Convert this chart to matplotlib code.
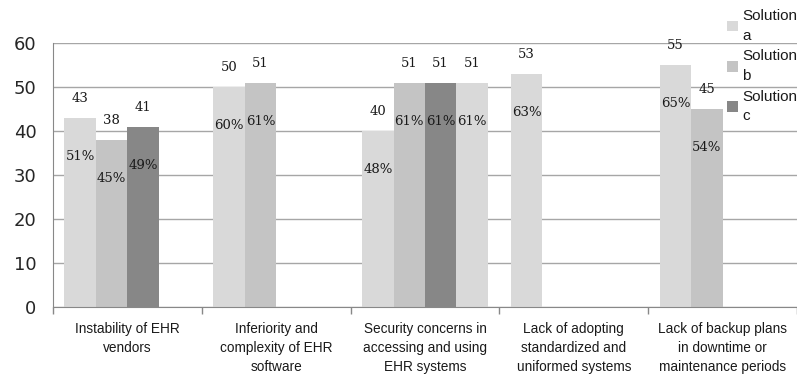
import numpy as np
import matplotlib.pyplot as plt
from matplotlib import font_manager
from matplotlib.ticker import FixedLocator, NullFormatter

categories = [
    "Instability of EHR\nvendors",
    "Inferiority and\ncomplexity of EHR\nsoftware",
    "Security concerns in\naccessing and using\nEHR systems",
    "Lack of adopting\nstandardized and\nuniformed systems",
    "Lack of backup plans\nin downtime or\nmaintenance periods",
]

# counts per solution (nan = no bar)
sol_a = [43, 50, 40, 53, 55]
sol_b = [38, 51, 51, np.nan, 45]
sol_c = [41, np.nan, 51, np.nan, np.nan]
sol_d = [np.nan, np.nan, 51, np.nan, np.nan]

# percentage shown inside each bar
pct_a = [51, 60, 48, 63, 65]
pct_b = [45, 61, 61, np.nan, 54]
pct_c = [49, np.nan, 61, np.nan, np.nan]
pct_d = [np.nan, np.nan, 61, np.nan, np.nan]

series = [
    ("Solution\na", sol_a, pct_a, "#d9d9d9"),
    ("Solution\nb", sol_b, pct_b, "#c4c4c4"),
    ("Solution\nc", sol_c, pct_c, "#878787"),
    (None, sol_d, pct_d, "#d9d9d9"),
]

# narrow font for the category labels if there is one
installed = {f.name for f in font_manager.fontManager.ttflist}
label_font = "Liberation Sans Narrow" if "Liberation Sans Narrow" in installed else "Liberation Sans"

fig = plt.figure(figsize=(7.97, 3.83), dpi=100)
ax = fig.add_axes([53 / 797, 76 / 383, 744 / 797, 264 / 383])

x = np.arange(len(categories))
w = 0.2114
num_font = dict(family="DejaVu Serif", fontsize=9.5, color="#1a1a1a")

handles = []
for k, (name, vals, pcts, col) in enumerate(series):
    pos = x + (k - 1.5) * w
    vals = np.array(vals, dtype=float)
    bars = ax.bar(pos, np.nan_to_num(vals), w, color=col, zorder=2,
                  label=name if name else "_nolegend_")
    if name:
        handles.append(bars)
    for p, v, pc in zip(pos, vals, pcts):
        if np.isnan(v):
            continue
        ax.annotate(f"{int(v)}", (p, v), xytext=(0, 14), textcoords="offset points",
                    ha="center", va="center", **num_font)
        ax.annotate(f"{int(pc)}%", (p, v), xytext=(0, -28), textcoords="offset points",
                    ha="center", va="center", **num_font)

ax.set_xlim(-0.5, 4.5)
ax.set_ylim(0, 60)
ax.set_yticks(range(0, 61, 10))
ax.yaxis.grid(True, color="#a6a6a6", linewidth=1, zorder=0)
ax.set_axisbelow(True)

ax.set_xticks(x)
lab_size = 10.5 if label_font.endswith("Narrow") else 9.8
ax.set_xticklabels(categories, family=label_font, fontsize=lab_size,
                   linespacing=1.45, color="#1a1a1a")
ax.tick_params(axis="x", which="major", length=0, pad=11)
ax.xaxis.set_minor_locator(FixedLocator(np.arange(-0.5, 5, 1)))
ax.xaxis.set_minor_formatter(NullFormatter())
ax.tick_params(axis="x", which="minor", length=5, color="#888888", width=1)
ax.tick_params(axis="y", length=0, pad=12, labelsize=13, labelcolor="#262626")
for lab in ax.get_yticklabels():
    lab.set_family("DejaVu Sans")

for side in ["top", "right"]:
    ax.spines[side].set_visible(False)
for side in ["left", "bottom"]:
    ax.spines[side].set_color("#888888")

leg = fig.legend(handles=handles, loc="upper left", bbox_to_anchor=(721 / 797, 1 - 3 / 383),
                 frameon=False, prop={"family": label_font, "size": 11},
                 handlelength=0.7, handleheight=0.7, handletextpad=0.3, labelspacing=0.45,
                 borderaxespad=0)
for t in leg.get_texts():
    t.set_linespacing(1.5)
    t.set_color("#1a1a1a")

fig.savefig("out.png", dpi=100)
